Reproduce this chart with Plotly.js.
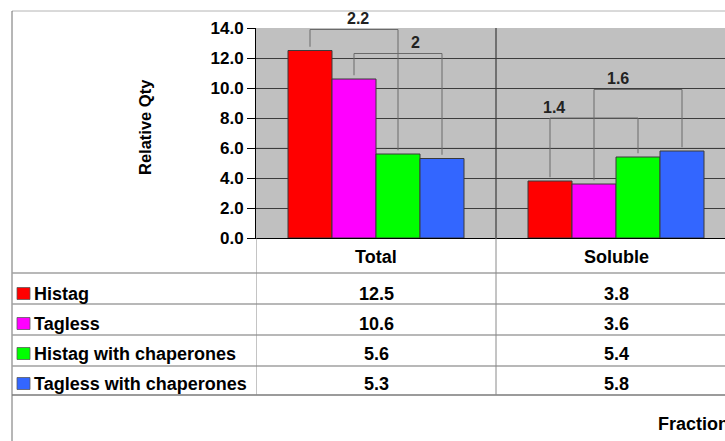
<!DOCTYPE html>
<html>
<head>
<meta charset="utf-8">
<script src="https://cdn.plot.ly/plotly-3.0.1.min.js"></script>
<style>
  html, body { margin: 0; padding: 0; background: #ffffff; }
  #chart { width: 725px; height: 441px; }
</style>
</head>
<body>
<div id="chart"></div>
<script>
// ---- data ----
const fractions = ['Total', 'Soluble'];
const seriesNames = ['Histag', 'Tagless', 'Histag with chaperones', 'Tagless with chaperones'];
const histag = [12.5, 3.8];
const tagless = [10.6, 3.6];
const histagChaperones = [5.6, 5.4];
const taglessChaperones = [5.3, 5.8];
const yTickValues = [0, 2, 4, 6, 8, 10, 12, 14];

// fold-change brackets: fraction index, the two compared series, bracket height, label position along bracket
const comparisons = [
  { cat: 0, a: 0, b: 2, top: 13.9, labelAt: 0.54 },
  { cat: 0, a: 1, b: 3, top: 12.3, labelAt: 0.70 },
  { cat: 1, a: 0, b: 2, top: 8.0,  labelAt: 0.05 },
  { cat: 1, a: 1, b: 3, top: 9.9,  labelAt: 0.27 }
];

// ---- styling / geometry ----
const seriesValues = [histag, tagless, histagChaperones, taglessChaperones];
const seriesColors = ['#FF0000', '#FF00FF', '#00FF00', '#3366FF'];
const FONT = 'Liberation Sans, Arial, sans-serif';
const FIG_W = 725, FIG_H = 441;
const PLOT_L = 256, PLOT_T = 28, PLOT_B = 238;
const PLOT_W = FIG_W - PLOT_L, PLOT_H = PLOT_B - PLOT_T;
const Y_MAX = 14;
const CAT_PX = 240;                       // width of one fraction column
const BARGAP = 1 - 176 / CAT_PX;
const barWidth = (1 - BARGAP) / seriesNames.length;

// pixel -> paper helpers for the data table under the plot
const px = x => (x - PLOT_L) / PLOT_W;
const py = y => (PLOT_B - y) / PLOT_H;

const headerY = 257;
const rowCenters = [293.5, 323.5, 353.5, 383.5];
const rowLines = [273, 304, 335, 366];
const tableBottom = 395;

const traces = seriesNames.map((name, i) => ({
  type: 'bar',
  name: name,
  x: fractions,
  y: seriesValues[i],
  marker: { color: seriesColors[i], line: { color: '#3a3a3a', width: 1 } },
  hoverinfo: 'skip',
  showlegend: false
}));

const shapes = [];
const annotations = [];
const boldFont = (size, color) => ({ family: FONT, size: size, color: color || '#000', weight: 'bold' });

// lighter 6.0 gridline
shapes.push({ type: 'line', layer: 'between', xref: 'paper', yref: 'y', x0: 0, x1: 1, y0: 6, y1: 6,
  line: { color: '#a8a8a8', width: 1 } });

// fraction divider inside the plot
shapes.push({ type: 'line', layer: 'between', xref: 'x', yref: 'paper', x0: 0.5, x1: 0.5, y0: 0, y1: 1,
  line: { color: '#202020', width: 1 } });

// brackets with fold-change labels
const barCenter = (cat, s) => cat + (s - (seriesNames.length - 1) / 2) * barWidth;
const bracketLine = { color: '#6a6a6a', width: 1 };
comparisons.forEach(c => {
  const va = seriesValues[c.a][c.cat], vb = seriesValues[c.b][c.cat];
  const xa = barCenter(c.cat, c.a), xb = barCenter(c.cat, c.b);
  shapes.push({ type: 'line', xref: 'x', yref: 'y', x0: xa, x1: xa, y0: va + 0.25, y1: c.top, line: bracketLine });
  shapes.push({ type: 'line', xref: 'x', yref: 'y', x0: xa, x1: xb, y0: c.top, y1: c.top, line: bracketLine });
  shapes.push({ type: 'line', xref: 'x', yref: 'y', x0: xb, x1: xb, y0: vb + 0.25, y1: c.top, line: bracketLine });
  const ratio = Math.max(va, vb) / Math.min(va, vb);
  annotations.push({
    xref: 'x', yref: 'paper', x: xa + (xb - xa) * c.labelAt, y: (c.top + 0.73) / Y_MAX,
    text: String(Math.round(ratio * 10) / 10), showarrow: false,
    font: boldFont(16, '#222'), xanchor: 'center', yanchor: 'middle'
  });
});

// ---- data table ----
const frameColor = '#8a8a8a';
// outer frame
shapes.push({ type: 'line', xref: 'paper', yref: 'paper', x0: px(12), x1: 1, y0: py(11), y1: py(11),
  line: { color: '#b4b4b4', width: 1 } });
shapes.push({ type: 'line', xref: 'paper', yref: 'paper', x0: px(12), x1: px(12), y0: py(11), y1: py(FIG_H + 2),
  line: { color: '#6e6e6e', width: 1 } });
// row separators
rowLines.forEach(y => shapes.push({ type: 'line', xref: 'paper', yref: 'paper', x0: px(12), x1: 1, y0: py(y), y1: py(y),
  line: { color: '#a0a0a0', width: 1.5 } }));
shapes.push({ type: 'line', xref: 'paper', yref: 'paper', x0: px(12), x1: 1, y0: py(tableBottom), y1: py(tableBottom),
  line: { color: '#7a7a7a', width: 1.5 } });
// column separators
[-0.5, 0.5].forEach(x => shapes.push({ type: 'line', xref: 'x', yref: 'paper', x0: x, x1: x, y0: 0, y1: py(tableBottom),
  line: { color: frameColor, width: 1 } }));

// column headers
fractions.forEach((f, i) => annotations.push({
  xref: 'x', yref: 'paper', x: i, y: py(headerY), text: f, showarrow: false,
  font: boldFont(18), xanchor: 'center', yanchor: 'middle'
}));

// rows: colour key, series name, values
seriesNames.forEach((name, s) => {
  const yc = rowCenters[s];
  shapes.push({ type: 'rect', xref: 'paper', yref: 'paper', x0: px(17), x1: px(30), y0: py(yc - 6), y1: py(yc + 6),
    fillcolor: seriesColors[s], line: { color: '#555', width: 0.75 } });
  annotations.push({
    xref: 'paper', yref: 'paper', x: px(32), y: py(yc), text: name, showarrow: false,
    font: boldFont(18), xanchor: 'left', yanchor: 'middle'
  });
  seriesValues[s].forEach((v, i) => annotations.push({
    xref: 'x', yref: 'paper', x: i, y: py(yc), text: v.toFixed(1), showarrow: false,
    font: boldFont(18), xanchor: 'center', yanchor: 'middle'
  }));
});

// axis titles
annotations.push({
  xref: 'paper', yref: 'paper', x: px(145), y: py(127), text: 'Relative Qty', textangle: -90, showarrow: false,
  font: boldFont(16.5), xanchor: 'center', yanchor: 'middle'
});
annotations.push({
  xref: 'paper', yref: 'paper', x: px(656), y: py(424), text: 'Fraction', showarrow: false,
  font: boldFont(18), xanchor: 'left', yanchor: 'middle'
});

const layout = {
  width: FIG_W,
  height: FIG_H,
  margin: { l: PLOT_L, r: 0, t: PLOT_T, b: FIG_H - PLOT_B, pad: 0 },
  paper_bgcolor: '#ffffff',
  plot_bgcolor: '#c0c0c0',
  font: { family: FONT, size: 17, color: '#000' },
  barmode: 'group',
  bargap: BARGAP,
  bargroupgap: 0,
  showlegend: false,
  xaxis: {
    type: 'category',
    range: [-0.5, -0.5 + PLOT_W / CAT_PX],
    showticklabels: false,
    ticks: '',
    showgrid: false,
    zeroline: false,
    showline: true,
    linecolor: '#000',
    linewidth: 1,
    fixedrange: true
  },
  yaxis: {
    range: [0, Y_MAX],
    tickvals: yTickValues,
    tickformat: '.1f',
    ticks: 'outside',
    ticklen: 8,
    tickwidth: 1,
    tickcolor: '#000',
    tickfont: boldFont(17),
    showgrid: true,
    gridcolor: '#3c3c3c',
    gridwidth: 1,
    zeroline: false,
    showline: true,
    linecolor: '#000',
    linewidth: 1,
    fixedrange: true
  },
  shapes: shapes,
  annotations: annotations
};

Plotly.newPlot('chart', traces, layout, { displayModeBar: false, staticPlot: true });
</script>
</body>
</html>
